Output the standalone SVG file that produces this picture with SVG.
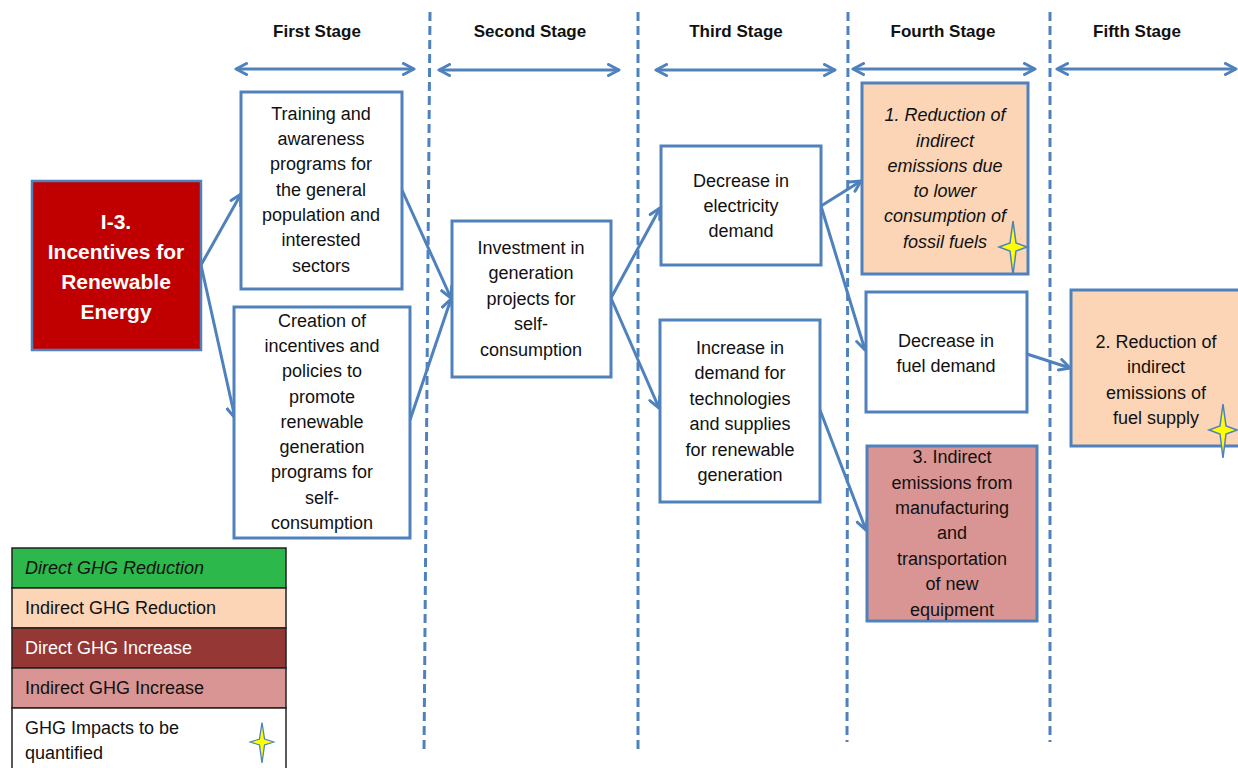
<svg xmlns="http://www.w3.org/2000/svg" width="1238" height="768" viewBox="0 0 1238 768">
<style>
text{font-family:"Liberation Sans",Arial,sans-serif;font-size:18px;fill:#111;text-anchor:middle}
.hd{font-weight:bold;font-size:17px}
.box{stroke:#4F81BD;stroke-width:3;fill:#fff}
.conn{stroke:#4F81BD;stroke-width:3;fill:none}
.dash{stroke:#4F81BD;stroke-width:3;stroke-dasharray:9 5;fill:none}
.lg{text-anchor:start}
.star{fill:#FFFF00;stroke:#4F81BD;stroke-width:1.5}
</style>
<defs>
<marker id="ah" viewBox="0 0 14 14" refX="12" refY="7" markerWidth="14" markerHeight="14" markerUnits="userSpaceOnUse" orient="auto-start-reverse">
<path d="M1.5,1.5 L12,7 L1.5,12.5" fill="none" stroke="#4F81BD" stroke-width="3" stroke-linecap="round" stroke-linejoin="round"/>
</marker>
<path id="star" d="M0,-26 L3,-4 L14,0 L3,4 L0,28 L-3,4 L-14,0 L-3,-4 Z"/>
</defs>
<rect width="1238" height="768" fill="#fff"/>
<g id="stages">
<text class="hd" x="317" y="37">First Stage</text>
<text class="hd" x="530" y="37">Second Stage</text>
<text class="hd" x="736" y="37">Third Stage</text>
<text class="hd" x="943" y="37">Fourth Stage</text>
<text class="hd" x="1137" y="37">Fifth Stage</text>
</g>
<g id="connectors">
<line class="conn" x1="236" y1="69" x2="414" y2="69" marker-start="url(#ah)" marker-end="url(#ah)"/>
<line class="conn" x1="439" y1="70" x2="619" y2="70" marker-start="url(#ah)" marker-end="url(#ah)"/>
<line class="conn" x1="656" y1="70" x2="835" y2="70" marker-start="url(#ah)" marker-end="url(#ah)"/>
<line class="conn" x1="853" y1="69" x2="1035" y2="69" marker-start="url(#ah)" marker-end="url(#ah)"/>
<line class="conn" x1="1057" y1="69" x2="1236" y2="69" marker-start="url(#ah)" marker-end="url(#ah)"/>
<line class="dash" x1="430" y1="12" x2="424" y2="752"/>
<line class="dash" x1="638" y1="12" x2="638" y2="752"/>
<line class="dash" x1="848" y1="12" x2="847" y2="742"/>
<line class="dash" x1="1050" y1="12" x2="1050" y2="742"/>
<line class="conn" x1="201" y1="265" x2="241" y2="194" marker-end="url(#ah)"/>
<line class="conn" x1="201" y1="265" x2="235" y2="418" marker-end="url(#ah)"/>
<line class="conn" x1="402" y1="190" x2="451" y2="298" marker-end="url(#ah)"/>
<line class="conn" x1="410" y1="420" x2="451" y2="299" marker-end="url(#ah)"/>
<line class="conn" x1="611" y1="298" x2="660" y2="208" marker-end="url(#ah)"/>
<line class="conn" x1="611" y1="298" x2="659" y2="408" marker-end="url(#ah)"/>
<line class="conn" x1="821" y1="206" x2="861" y2="181" marker-end="url(#ah)"/>
<line class="conn" x1="821" y1="206" x2="865" y2="350" marker-end="url(#ah)"/>
<line class="conn" x1="820" y1="410" x2="866" y2="530" marker-end="url(#ah)"/>
<line class="conn" x1="1027" y1="354" x2="1070" y2="368" marker-end="url(#ah)"/>
</g>
<g id="n-i3">
<rect x="32" y="181" width="169" height="169" fill="#C00000" stroke="#4F81BD" stroke-width="2.5"/>
<text x="116" y="229" style="font-weight:bold;font-size:21px;fill:#fff">I-3.</text>
<text x="116" y="259" style="font-weight:bold;font-size:21px;fill:#fff">Incentives for</text>
<text x="116" y="289" style="font-weight:bold;font-size:21px;fill:#fff">Renewable</text>
<text x="116" y="319" style="font-weight:bold;font-size:21px;fill:#fff">Energy</text>
</g>
<g id="n-training">
<rect class="box" x="241" y="92" width="161" height="197"/>
<text x="321" y="120">Training and</text>
<text x="321" y="145">awareness</text>
<text x="321" y="170">programs for</text>
<text x="321" y="196">the general</text>
<text x="321" y="221">population and</text>
<text x="321" y="246">interested</text>
<text x="321" y="272">sectors</text>
</g>
<g id="n-creation">
<rect class="box" x="234" y="307" width="176" height="231"/>
<text x="322" y="327">Creation of</text>
<text x="322" y="352">incentives and</text>
<text x="322" y="377">policies to</text>
<text x="322" y="403">promote</text>
<text x="322" y="428">renewable</text>
<text x="322" y="453">generation</text>
<text x="322" y="478">programs for</text>
<text x="322" y="504">self-</text>
<text x="322" y="529">consumption</text>
</g>
<g id="n-investment">
<rect class="box" x="452" y="221" width="159" height="156"/>
<text x="531" y="254">Investment in</text>
<text x="531" y="279">generation</text>
<text x="531" y="305">projects for</text>
<text x="531" y="330">self-</text>
<text x="531" y="356">consumption</text>
</g>
<g id="n-elec">
<rect class="box" x="661" y="146" width="160" height="119"/>
<text x="741" y="187">Decrease in</text>
<text x="741" y="212">electricity</text>
<text x="741" y="237">demand</text>
</g>
<g id="n-tech">
<rect class="box" x="660" y="320" width="160" height="182"/>
<text x="740" y="354">Increase in</text>
<text x="740" y="379">demand for</text>
<text x="740" y="405">technologies</text>
<text x="740" y="430">and supplies</text>
<text x="740" y="456">for renewable</text>
<text x="740" y="481">generation</text>
</g>
<g id="n-fossil">
<rect class="box" x="862" y="83" width="166" height="191" style="fill:#FBD5B5"/>
<g style="font-style:italic">
<text x="945" y="121">1. Reduction of</text>
<text x="945" y="147">indirect</text>
<text x="945" y="172">emissions due</text>
<text x="945" y="197">to lower</text>
<text x="945" y="222">consumption of</text>
<text x="945" y="248">fossil fuels</text>
</g>
<use href="#star" class="star" transform="translate(1013,247)"/>
</g>
<g id="n-fuel">
<rect class="box" x="866" y="292" width="161" height="120"/>
<text x="946" y="347">Decrease in</text>
<text x="946" y="372">fuel demand</text>
</g>
<g id="n-manuf">
<rect class="box" x="867" y="446" width="170" height="175" style="fill:#D99594"/>
<text x="952" y="463">3. Indirect</text>
<text x="952" y="489">emissions from</text>
<text x="952" y="514">manufacturing</text>
<text x="952" y="539">and</text>
<text x="952" y="565">transportation</text>
<text x="952" y="590">of new</text>
<text x="952" y="616">equipment</text>
</g>
<g id="n-supply">
<rect class="box" x="1071" y="290" width="170" height="156" style="fill:#FBD5B5"/>
<text x="1156" y="348">2. Reduction of</text>
<text x="1156" y="373">indirect</text>
<text x="1156" y="399">emissions of</text>
<text x="1156" y="424">fuel supply</text>
<use href="#star" class="star" transform="translate(1223,430)"/>
</g>
<g id="legend">
<rect x="12" y="548" width="274" height="40" fill="#2DB84B" stroke="#222" stroke-width="1.5"/>
<rect x="12" y="588" width="274" height="40" fill="#FBD5B5" stroke="#222" stroke-width="1.5"/>
<rect x="12" y="628" width="274" height="40" fill="#953735" stroke="#222" stroke-width="1.5"/>
<rect x="12" y="668" width="274" height="40" fill="#D99594" stroke="#222" stroke-width="1.5"/>
<rect x="12" y="708" width="274" height="62" fill="#fff" stroke="#222" stroke-width="1.5"/>
<text class="lg" x="25" y="574" style="font-style:italic">Direct GHG Reduction</text>
<text class="lg" x="25" y="614">Indirect GHG Reduction</text>
<text class="lg" x="25" y="654" style="fill:#fff">Direct GHG Increase</text>
<text class="lg" x="25" y="694">Indirect GHG Increase</text>
<text class="lg" x="25" y="734">GHG Impacts to be</text>
<text class="lg" x="25" y="759">quantified</text>
<use href="#star" class="star" transform="translate(262,742) scale(0.85,0.75)"/>
</g>
</svg>
